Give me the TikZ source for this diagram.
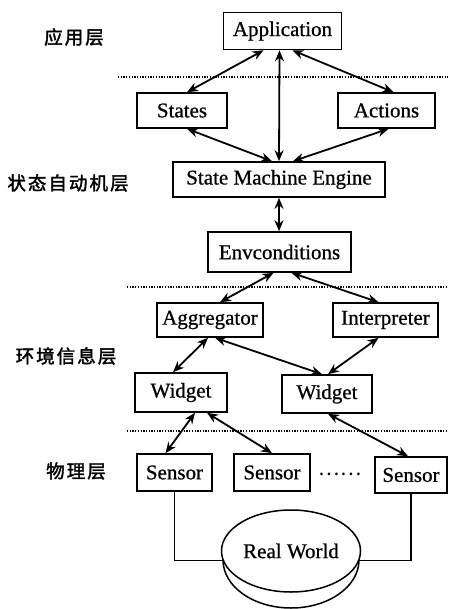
\documentclass[tikz,border=0pt]{standalone}
\usepackage{fontspec}
\setmainfont{Liberation Serif}
\newfontfamily\boxfont[FakeBold=0.7]{Liberation Serif}
\newfontfamily\cjk[LetterSpace=11,FakeBold=2]{Noto Sans CJK SC}
\newfontfamily\cjkplain{Noto Sans CJK SC}
\usetikzlibrary{arrows.meta,shapes.geometric}
\begin{document}
\begin{tikzpicture}[x=1pt,y=-1pt,
  box/.style={draw,line width=1.6pt,fill=white,inner sep=0pt,font=\boxfont\fontsize{21}{24}\selectfont},
  lay/.style={font=\cjk\fontsize{18.5}{22}\selectfont,inner sep=0pt},
  biarrow/.style={line width=1.8pt,{Stealth[length=11pt,width=9pt]}-{Stealth[length=11pt,width=9pt]}},
  sep/.style={line width=1.4pt,dash pattern=on 1.3pt off 1.4pt},
  wire/.style={line width=1.3pt}]
\useasboundingbox (0,0) rectangle (448,609);

% layer labels
\node[lay] (l1) at (74,37) {应用层};
\node[lay] (l2) at (68,183) {状态自动机层};
\node[lay] (l3) at (66,356) {环境信息层};
\node[lay] (l4) at (76,471) {物理层};

% separators
\draw[sep] (118,77) -- (448,77);
\draw[sep] (127,287) -- (448,287);
\draw[sep] (127,431) -- (448,431);

% boxes
\node[box,minimum width=118pt,minimum height=37pt] (app) at (282.5,31) {Application};
\node[box,minimum width=90pt,minimum height=35pt] (states) at (182,110.5) {States};
\node[box,minimum width=97pt,minimum height=35pt] (actions) at (386.5,110.5) {Actions};
\node[box,minimum width=212pt,minimum height=35pt] (sme) at (279,179.5) {State Machine Engine};
\node[box,minimum width=143pt,minimum height=40pt] (env) at (279.5,252) {Envconditions};
\node[box,minimum width=106pt,minimum height=34pt] (agg) at (210,320) {Aggregator};
\node[box,minimum width=105pt,minimum height=34pt] (interp) at (385.5,320) {Interpreter};
\node[box,minimum width=92pt,minimum height=39pt] (wl) at (181,392.5) {Widget};
\node[box,minimum width=90pt,minimum height=38pt] (wr) at (327,394) {Widget};
\node[box,minimum width=75pt,minimum height=37pt] (s1) at (174.5,472.5) {Sensor};
\node[box,minimum width=76pt,minimum height=37pt] (s2) at (272,472.5) {Sensor};
\node[box,minimum width=72pt,minimum height=36pt] (s3) at (411,475) {Sensor};
\node[font=\cjkplain\fontsize{20}{22}\selectfont,inner sep=0pt] (dots) at (340,474) {……};

% real world
\node[draw,ellipse,line width=1.5pt,minimum width=139pt,minimum height=82pt,inner sep=0pt,
      font=\boxfont\fontsize{21}{24}\selectfont] (rw) at (291,551) {Real World};
\draw[line width=1.5pt] (223,560) .. controls (223,586.5) and (253.4,608) .. (291,608)
      .. controls (328.6,608) and (359,586.5) .. (359,560);

% arrows
\draw[biarrow] ([xshift=-19pt]app.south) -- ([xshift=5pt]states.north);
\draw[biarrow] ([xshift=-3pt]app.south) -- (sme.north);
\draw[biarrow] ([xshift=10pt]app.south) -- ([xshift=7pt]actions.north);
\draw[biarrow] ([xshift=5pt]states.south) -- ([xshift=-7pt]sme.north);
\draw[biarrow] ([xshift=2pt]actions.south) -- ([xshift=14pt]sme.north);
\draw[biarrow] (sme.south) -- ([xshift=-0.5pt]env.north);
\draw[biarrow] ([xshift=-6pt]env.south) -- ([xshift=10pt]agg.north);
\draw[biarrow] ([xshift=12pt]env.south) -- ([xshift=-7pt]interp.north);
\draw[biarrow] ([xshift=-2pt]agg.south) -- ([xshift=-8pt]wl.north);
\draw[biarrow] ([xshift=5pt]agg.south) -- ([xshift=-5pt]wr.north);
\draw[biarrow] ([xshift=-7pt]interp.south) -- ([xshift=1pt]wr.north);
\draw[biarrow] ([xshift=14pt]wl.south) -- ([xshift=-9pt]s1.north);
\draw[biarrow] ([xshift=26pt]wl.south) -- (s2.north);
\draw[biarrow] ([xshift=1pt]wr.south) -- ([xshift=-3pt]s3.north);

% wires to real world
\draw[wire] (s1.south) |- (rw.188);
\draw[wire] (s3.south) |- (rw.-8);
\end{tikzpicture}
\end{document}
